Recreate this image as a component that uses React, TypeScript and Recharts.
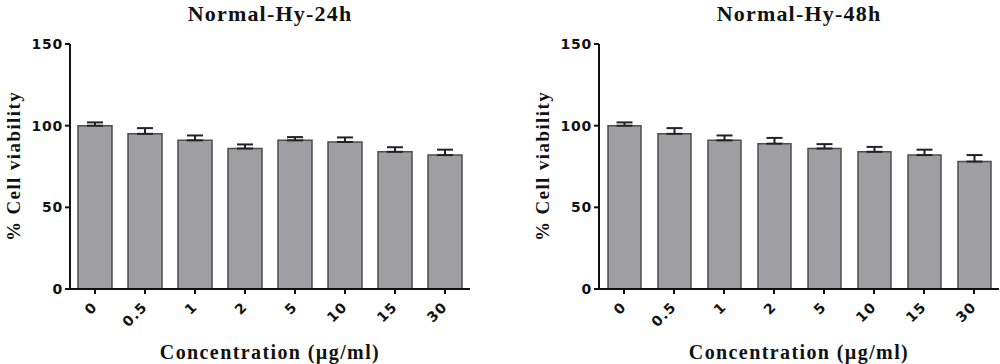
import { BarChart, Bar, XAxis, YAxis, ErrorBar } from "recharts";

const concentrations = ["0", "0.5", "1", "2", "5", "10", "15", "30"];
const viability24h = [100, 95, 91, 86, 91, 90, 84, 82];
const sem24h = [2, 3.5, 3, 2.5, 2, 2.8, 2.8, 3.3];
const viability48h = [100, 95, 91, 89, 86, 84, 82, 78];
const sem48h = [2, 3.5, 3, 3.5, 2.7, 3, 3.3, 4];
const yTicks = [0, 50, 100, 150];

const serif = "'Liberation Serif', 'Times New Roman', serif";
const sans = "'DejaVu Sans', Arial, sans-serif";

function ConcTick({ x, y, payload }: any) {
  const ax = x + 3;
  const ay = y + 12;
  return (
    <text
      x={ax}
      y={ay}
      transform={`rotate(-45 ${ax} ${ay})`}
      textAnchor="end"
      fontFamily={sans}
      fontWeight="bold"
      fontSize={14}
      letterSpacing={1}
      fill="#111"
    >
      {payload.value}
    </text>
  );
}

function ViabilityPanel({
  title,
  values,
  sem,
  axisWidth,
  rightMargin,
  barSize,
}: {
  title: string;
  values: number[];
  sem: number[];
  axisWidth: number;
  rightMargin: number;
  barSize: number;
}) {
  const data = concentrations.map((c, i) => ({
    conc: c,
    value: values[i],
    err: [0, sem[i]],
  }));
  const plotLeft = axisWidth;
  const plotRight = 500 - rightMargin;
  const cx = (plotLeft + plotRight) / 2;
  const labelX = axisWidth - 57;
  return (
    <BarChart
      width={500}
      height={364}
      data={data}
      margin={{ top: 44, right: rightMargin, bottom: 0, left: 0 }}
    >
      <XAxis
        dataKey="conc"
        height={75}
        tick={<ConcTick />}
        tickSize={5}
        interval={0}
        axisLine={{ stroke: "#111", strokeWidth: 2 }}
        tickLine={{ stroke: "#111", strokeWidth: 2 }}
      />
      <YAxis
        width={axisWidth}
        domain={[0, 150]}
        ticks={yTicks}
        tickSize={5}
        tick={{
          fontFamily: sans,
          fontWeight: "bold",
          fontSize: 14,
          letterSpacing: 0.8,
          fill: "#111",
        }}
        axisLine={{ stroke: "#111", strokeWidth: 2 }}
        tickLine={{ stroke: "#111", strokeWidth: 2 }}
      />
      <Bar
        dataKey="value"
        barSize={barSize}
        fill="#9e9ea3"
        stroke="#4d4d4d"
        strokeWidth={1.5}
        isAnimationActive={false}
      >
        <ErrorBar dataKey="err" width={8} stroke="#222" strokeWidth={2} direction="y" />
      </Bar>
      <text
        x={cx}
        y={21}
        textAnchor="middle"
        fontFamily={serif}
        fontWeight="bold"
        fontSize={22}
        letterSpacing={1.2}
        fill="#111"
      >
        {title}
      </text>
      <text
        x={labelX}
        y={166}
        transform={`rotate(-90 ${labelX} 166)`}
        textAnchor="middle"
        dominantBaseline="central"
        fontFamily={serif}
        fontWeight="bold"
        fontSize={19}
        letterSpacing={1.4}
        fill="#111"
      >
        % Cell viability
      </text>
      <text
        x={cx}
        y={352}
        textAnchor="middle"
        dominantBaseline="central"
        fontFamily={serif}
        fontWeight="bold"
        fontSize={20}
        letterSpacing={1.4}
        fill="#111"
      >
        Concentration (µg/ml)
      </text>
    </BarChart>
  );
}

export default function App() {
  return (
    <div
      style={{
        position: "absolute",
        left: 0,
        top: 0,
        width: 1000,
        height: 364,
        display: "flex",
        background: "#fff",
      }}
    >
      <ViabilityPanel
        title="Normal-Hy-24h"
        values={viability24h}
        sem={sem24h}
        axisWidth={70}
        rightMargin={30}
        barSize={34}
      />
      <ViabilityPanel
        title="Normal-Hy-48h"
        values={viability48h}
        sem={sem48h}
        axisWidth={99}
        rightMargin={1}
        barSize={33}
      />
    </div>
  );
}
